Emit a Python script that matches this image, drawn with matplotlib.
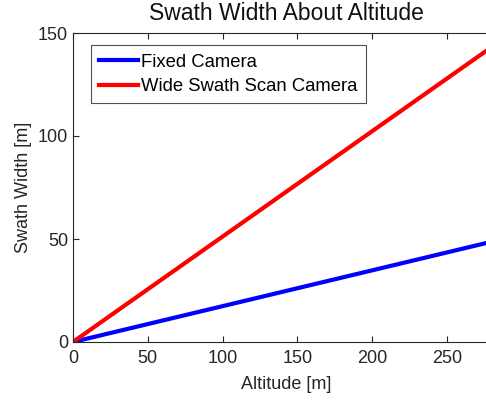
import matplotlib.pyplot as plt

plt.rcParams['font.family'] = ['Liberation Sans', 'DejaVu Sans']

# altitude vs swath width for the two camera setups
altitude = [0, 285]
fixed_cam = [0, 49.6]
wide_cam = [0, 145.9]

xticks = [0, 50, 100, 150, 200, 250]
yticks = [0, 50, 100, 150]

fig = plt.figure(figsize=(4.86, 4.0), dpi=100)
ax = fig.add_axes([0.150, 0.145, 0.878, 0.7725])

ax.plot(altitude, fixed_cam, color='#0000ff', linewidth=3, label='Fixed Camera')
ax.plot(altitude, wide_cam, color='#ff0000', linewidth=3, label='Wide Swath Scan Camera')

ax.set_xlim(0, 285)
ax.set_ylim(0, 150)
ax.set_xticks(xticks)
ax.set_yticks(yticks)
ax.tick_params(direction='in', length=4, labelsize=13, colors='#262626', top=True)
ax.tick_params(axis='x', pad=6)
for s in ax.spines.values():
    s.set_color('#262626')
    s.set_linewidth(0.8)
ax.spines['right'].set_visible(False)

ax.set_title('Swath Width About Altitude', fontsize=16.5, color='#111111', pad=9)
ax.set_xlabel('Altitude [m]', fontsize=13, color='#262626', labelpad=6)
ax.set_ylabel('Swath Width [m]', fontsize=13, color='#262626')

leg = ax.legend(loc='upper left', fontsize=13.3, frameon=True, fancybox=False,
                handlelength=2.1, handletextpad=0.2, borderpad=0.45, labelspacing=0.4,
                bbox_to_anchor=(0.02, 0.99))
leg.get_frame().set_edgecolor('#262626')
leg.get_frame().set_linewidth(0.8)

fig.savefig('out.png', dpi=100)
